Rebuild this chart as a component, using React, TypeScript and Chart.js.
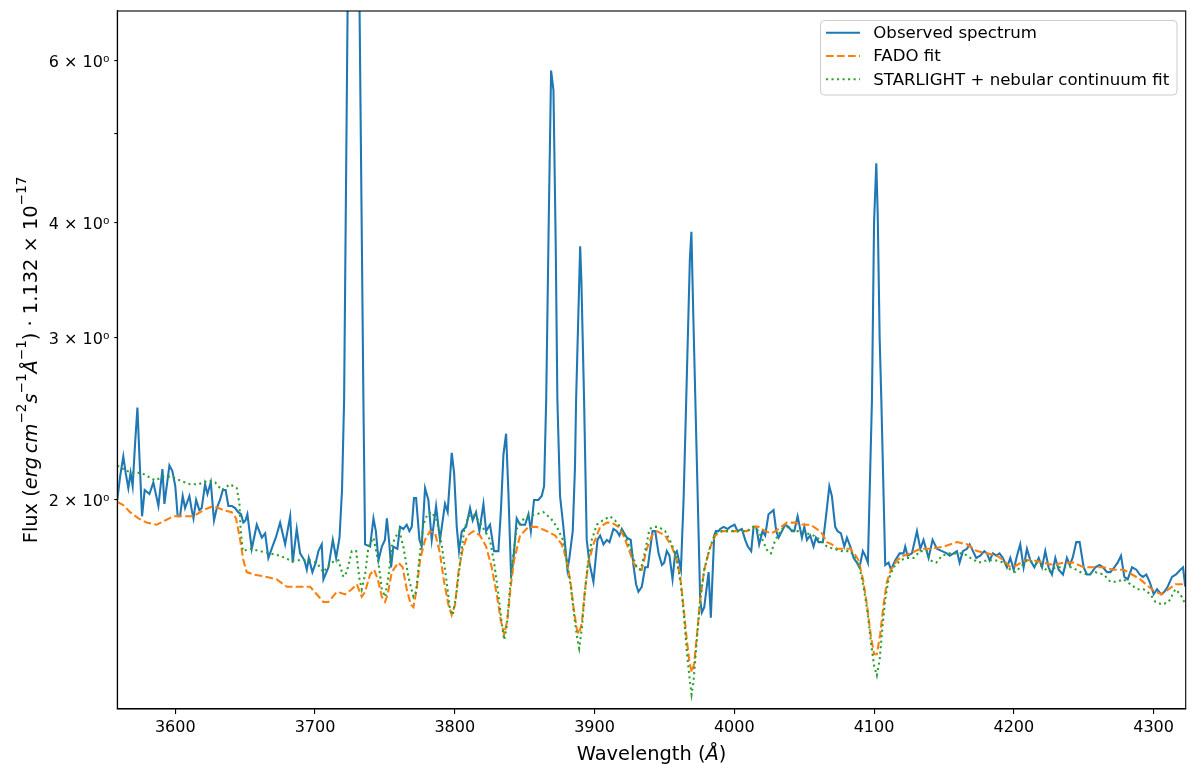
import { useEffect, useRef } from 'react';
import { Chart, registerables } from 'chart.js';

Chart.register(...registerables);

// Observed spectrum (Å, flux)
const obsWave = [
  3558.5, 3560.5, 3562.8, 3564.5, 3566.4, 3568.0, 3569.5, 3571.2, 3572.9, 3574.5, 3576.2, 3578.1, 3579.8, 3581.5,
  3584.3, 3587.9, 3590.8, 3592.2, 3595.8, 3597.9, 3600.0, 3601.7, 3603.4, 3605.3, 3607.0, 3610.1, 3611.8, 3613.0,
  3614.9, 3617.2, 3618.9, 3621.3, 3623.0, 3625.4, 3627.7, 3629.7, 3632.0, 3634.0, 3636.0, 3638.0, 3640.5, 3642.8,
  3645.0, 3647.0, 3648.7, 3650.2, 3651.6, 3654.7, 3658.3, 3661.9, 3664.3, 3666.6, 3669.5, 3671.9, 3675.0, 3678.6,
  3680.0, 3682.2, 3684.0, 3686.9, 3689.3, 3692.4, 3694.1, 3695.5, 3698.1, 3700.5, 3702.4, 3704.8, 3706.0, 3709.6,
  3712.7, 3715.1, 3717.5, 3719.3, 3720.8, 3724.5, 3727.5, 3730.5, 3734.6, 3735.8, 3739.4, 3741.8, 3743.5, 3745.4,
  3747.8, 3750.0, 3751.4, 3753.2, 3754.4, 3756.0, 3758.9, 3760.8, 3763.2, 3765.6, 3767.5, 3769.2, 3770.8, 3772.3,
  3774.7, 3776.3, 3778.7, 3781.1, 3783.5, 3786.6, 3789.4, 3793.0, 3794.9, 3797.8, 3799.5, 3801.4, 3803.0, 3805.0,
  3808.1, 3810.9, 3812.8, 3815.2, 3817.6, 3820.5, 3822.4, 3825.2, 3828.1, 3831.2, 3833.0, 3834.8, 3836.7, 3838.4,
  3840.3, 3841.9, 3844.3, 3846.7, 3850.3, 3852.7, 3854.4, 3856.7, 3859.8, 3862.2, 3863.9, 3865.4, 3867.2, 3868.9,
  3870.6, 3872.2, 3873.4, 3875.3, 3877.7, 3880.6, 3882.0, 3884.4, 3886.0, 3886.8, 3889.7, 3890.6, 3892.5, 3894.4,
  3896.3, 3899.2, 3902.1, 3904.0, 3906.4, 3908.8, 3910.7, 3913.5, 3915.9, 3917.8, 3919.5, 3923.1, 3925.9, 3927.8,
  3929.7, 3931.4, 3933.8, 3936.2, 3938.1, 3941.5, 3943.4, 3945.8, 3948.2, 3949.8, 3951.7, 3953.6, 3955.8, 3957.7,
  3958.9, 3961.8, 3963.7, 3965.6, 3968.2, 3969.3, 3970.6, 3973.2, 3975.6, 3976.8, 3978.5, 3981.6, 3983.2, 3985.6,
  3986.8, 3988.7, 3989.9, 3992.3, 3995.2, 3997.1, 4000.2, 4002.3, 4005.4, 4007.8, 4009.7, 4012.1, 4013.8, 4015.7,
  4017.8, 4020.2, 4022.1, 4024.5, 4028.1, 4030.0, 4031.7, 4034.1, 4036.4, 4038.8, 4041.2, 4042.9, 4045.3, 4048.4,
  4050.1, 4052.0, 4054.3, 4056.7, 4058.4, 4060.3, 4063.4, 4065.8, 4068.0, 4069.8, 4072.2, 4073.9, 4076.3, 4078.7,
  4080.6, 4083.0, 4085.4, 4087.7, 4089.6, 4092.0, 4093.7, 4095.6, 4097.3, 4098.5, 4100.0, 4101.6, 4102.6, 4104.0,
  4105.2, 4108.0, 4110.4, 4112.1, 4115.2, 4118.3, 4121.1, 4122.3, 4124.0, 4127.1, 4130.7, 4133.1, 4135.4, 4139.0,
  4141.9, 4145.0, 4148.6, 4152.1, 4154.1, 4156.9, 4159.3, 4161.2, 4163.6, 4166.5, 4168.4, 4170.8, 4173.1, 4176.0,
  4178.9, 4180.8, 4182.7, 4185.1, 4187.5, 4189.8, 4192.2, 4195.1, 4197.5, 4199.9, 4202.3, 4204.6, 4207.0, 4209.4,
  4211.8, 4214.7, 4217.8, 4220.2, 4222.5, 4224.9, 4227.3, 4229.7, 4232.1, 4235.2, 4238.0, 4240.0, 4242.1, 4244.7,
  4247.1, 4250.0, 4252.4, 4254.7, 4258.3, 4261.4, 4263.8, 4266.7, 4269.1, 4271.9, 4274.3, 4276.7, 4279.1, 4281.5,
  4284.6, 4287.7, 4290.1, 4292.4, 4294.8, 4297.2, 4300.1, 4302.5, 4305.3, 4307.7, 4310.1, 4313.2, 4316.1, 4319.2,
  4321.1, 4322.7,
];
const obsFlux = [
  2.00, 2.12, 2.23, 2.14, 2.06, 2.14, 2.07, 2.30, 2.52, 2.20, 1.92, 2.05, 2.04, 2.03,
  2.09, 1.97, 2.16, 1.98, 2.18, 2.15, 2.07, 1.92, 1.92, 2.02, 1.96, 2.02, 1.95, 1.91,
  2.00, 1.95, 1.96, 2.08, 2.03, 2.09, 1.90, 1.96, 2.00, 2.05, 2.05, 1.97, 1.97, 1.96,
  1.94, 1.93, 1.89, 1.90, 1.93, 1.77, 1.88, 1.82, 1.84, 1.73, 1.78, 1.82, 1.89, 1.79,
  1.84, 1.92, 1.71, 1.86, 1.75, 1.72, 1.68, 1.73, 1.67, 1.71, 1.76, 1.79, 1.64, 1.69,
  1.81, 1.73, 1.82, 2.05, 2.57, 11.0, 13.0, 11.0, 2.57, 1.79, 1.78, 1.91, 1.85, 1.72,
  1.78, 1.81, 1.91, 1.79, 1.69, 1.78, 1.77, 1.87, 1.86, 1.88, 1.85, 1.87, 2.01, 2.01,
  1.81, 1.78, 2.06, 2.00, 1.81, 1.97, 1.81, 1.98, 1.94, 2.25, 2.14, 1.87, 1.76, 1.85,
  1.87, 1.96, 1.90, 1.94, 1.85, 1.98, 1.85, 1.88, 1.76, 1.76, 1.95, 2.24, 2.36, 2.03,
  1.65, 1.72, 1.91, 1.88, 1.88, 1.93, 1.85, 2.00, 2.00, 2.02, 2.07, 2.57, 4.00, 5.85,
  5.57, 3.80, 2.57, 2.02, 1.87, 1.68, 1.73, 1.85, 2.17, 2.57, 3.77, 3.45, 2.57, 1.81,
  1.71, 1.63, 1.81, 1.83, 1.79, 1.81, 1.80, 1.86, 1.85, 1.83, 1.86, 1.82, 1.81, 1.70,
  1.62, 1.59, 1.61, 1.69, 1.69, 1.85, 1.85, 1.75, 1.70, 1.71, 1.76, 1.74, 1.64, 1.75,
  1.76, 1.68, 2.00, 2.57, 3.65, 3.91, 3.20, 2.20, 1.56, 1.51, 1.53, 1.67, 1.49, 1.83,
  1.85, 1.85, 1.86, 1.87, 1.86, 1.87, 1.88, 1.85, 1.86, 1.81, 1.78, 1.76, 1.87, 1.87,
  1.79, 1.85, 1.83, 1.93, 1.95, 1.85, 1.82, 1.85, 1.88, 1.87, 1.85, 1.85, 1.92, 1.82,
  1.87, 1.81, 1.83, 1.78, 1.82, 1.80, 1.80, 1.93, 2.07, 2.02, 1.87, 1.85, 1.84, 1.78,
  1.82, 1.78, 1.73, 1.71, 1.69, 1.76, 1.74, 1.71, 2.17, 2.57, 4.00, 4.64, 4.10, 3.00,
  2.57, 1.70, 1.71, 1.68, 1.72, 1.75, 1.75, 1.78, 1.74, 1.75, 1.85, 1.77, 1.81, 1.73,
  1.81, 1.77, 1.76, 1.75, 1.74, 1.75, 1.76, 1.71, 1.76, 1.77, 1.79, 1.76, 1.73, 1.74,
  1.76, 1.75, 1.72, 1.75, 1.74, 1.75, 1.73, 1.69, 1.73, 1.68, 1.74, 1.79, 1.69, 1.77,
  1.72, 1.69, 1.73, 1.69, 1.76, 1.69, 1.66, 1.73, 1.68, 1.66, 1.73, 1.70, 1.73, 1.80,
  1.80, 1.69, 1.66, 1.66, 1.69, 1.70, 1.69, 1.67, 1.67, 1.69, 1.71, 1.74, 1.65, 1.64,
  1.69, 1.68, 1.66, 1.65, 1.66, 1.63, 1.58, 1.60, 1.58, 1.59, 1.61, 1.65, 1.66, 1.68,
  1.69, 1.61,
];

// FADO fit
const fadoWave = [
  3558.5, 3562.8, 3567.6, 3573.6, 3579.5, 3586.7, 3592.7, 3598.6, 3605.8, 3613.0, 3620.1, 3627.3, 3634.4, 3640.4,
  3643.5, 3646.4, 3648.7, 3651.1, 3655.9, 3665.5, 3672.6, 3679.8, 3687.0, 3696.5, 3701.2, 3706.0, 3709.6, 3715.6,
  3721.5, 3726.3, 3729.9, 3733.4, 3735.8, 3739.4, 3742.3, 3744.9, 3747.8, 3750.1, 3752.0, 3754.9, 3759.6, 3762.7,
  3765.6, 3768.5, 3770.4, 3772.7, 3775.1, 3778.7, 3782.3, 3785.9, 3789.4, 3792.3, 3795.4, 3797.8, 3800.2, 3802.6,
  3805.7, 3809.0, 3813.3, 3818.1, 3822.4, 3826.4, 3830.0, 3832.9, 3835.3, 3837.6, 3840.0, 3842.4, 3846.7, 3852.7,
  3858.6, 3865.8, 3871.8, 3876.5, 3880.1, 3883.0, 3884.9, 3887.3, 3888.7, 3890.9, 3893.2, 3895.6, 3899.2, 3904.0,
  3908.8, 3912.3, 3917.1, 3920.7, 3924.3, 3927.8, 3931.4, 3933.8, 3937.4, 3941.0, 3944.6, 3950.5, 3955.3, 3958.9,
  3961.3, 3963.7, 3966.0, 3968.0, 3969.6, 3971.3, 3973.7, 3975.6, 3978.5, 3982.3, 3986.3, 3991.1, 3997.1, 4003.0,
  4009.0, 4013.8, 4017.4, 4022.1, 4026.9, 4031.7, 4037.6, 4043.6, 4049.6, 4054.3, 4059.1, 4062.7, 4066.3, 4069.8,
  4073.4, 4078.2, 4083.0, 4085.8, 4088.9, 4092.1, 4094.9, 4097.8, 4100.1, 4102.0, 4104.4, 4106.8, 4109.2, 4112.1,
  4116.4, 4121.1, 4125.9, 4133.1, 4140.2, 4149.8, 4159.3, 4166.5, 4173.6, 4180.8, 4187.9, 4192.7, 4197.5, 4202.3,
  4208.2, 4214.2, 4221.3, 4228.5, 4235.7, 4242.8, 4250.0, 4257.1, 4264.3, 4271.4, 4278.6, 4284.6, 4290.5, 4296.5,
  4301.3, 4306.0, 4310.8, 4315.6, 4320.4, 4322.7,
];
const fadoFlux = [
  1.99, 1.975, 1.94, 1.91, 1.89, 1.88, 1.90, 1.92, 1.92, 1.92, 1.95, 1.97, 1.95, 1.94,
  1.91, 1.81, 1.72, 1.67, 1.66, 1.65, 1.64, 1.61, 1.61, 1.61, 1.58, 1.55, 1.55, 1.59,
  1.58, 1.60, 1.62, 1.57, 1.59, 1.66, 1.68, 1.64, 1.57, 1.55, 1.58, 1.67, 1.71, 1.69,
  1.60, 1.54, 1.53, 1.60, 1.72, 1.81, 1.85, 1.84, 1.75, 1.63, 1.54, 1.50, 1.54, 1.67,
  1.77, 1.83, 1.85, 1.83, 1.78, 1.69, 1.58, 1.48, 1.43, 1.48, 1.61, 1.72, 1.83, 1.87,
  1.87, 1.85, 1.83, 1.79, 1.72, 1.62, 1.53, 1.45, 1.43, 1.47, 1.60, 1.71, 1.79, 1.87,
  1.89, 1.89, 1.87, 1.83, 1.77, 1.71, 1.68, 1.68, 1.77, 1.83, 1.85, 1.83, 1.78, 1.72,
  1.65, 1.53, 1.41, 1.33, 1.30, 1.33, 1.45, 1.56, 1.68, 1.77, 1.83, 1.85, 1.85, 1.85,
  1.85, 1.87, 1.87, 1.85, 1.84, 1.86, 1.89, 1.89, 1.88, 1.88, 1.86, 1.84, 1.80, 1.79,
  1.77, 1.77, 1.77, 1.75, 1.72, 1.64, 1.54, 1.42, 1.36, 1.36, 1.43, 1.54, 1.63, 1.68,
  1.72, 1.74, 1.75, 1.77, 1.77, 1.78, 1.80, 1.79, 1.76, 1.75, 1.74, 1.72, 1.69, 1.70,
  1.72, 1.72, 1.71, 1.70, 1.71, 1.71, 1.69, 1.69, 1.69, 1.68, 1.68, 1.66, 1.64, 1.61,
  1.59, 1.58, 1.60, 1.62, 1.62, 1.61,
];

// STARLIGHT + nebular continuum fit
const starWave = [
  3558.5, 3560.5, 3565.2, 3570.0, 3576.0, 3580.7, 3585.5, 3591.5, 3597.4, 3603.4, 3610.6, 3616.5, 3623.7, 3628.5,
  3633.2, 3639.2, 3644.0, 3645.9, 3646.8, 3648.3, 3653.5, 3660.7, 3667.8, 3675.0, 3682.1, 3689.3, 3696.5, 3701.2,
  3706.0, 3711.3, 3716.7, 3720.3, 3722.7, 3726.3, 3729.4, 3731.8, 3733.4, 3735.8, 3738.2, 3741.8, 3745.4, 3747.8,
  3750.1, 3752.5, 3754.9, 3757.2, 3760.3, 3763.2, 3766.8, 3770.4, 3772.3, 3774.7, 3777.5, 3780.4, 3783.5, 3787.1,
  3790.6, 3793.7, 3796.6, 3798.5, 3800.9, 3803.8, 3806.6, 3809.7, 3813.3, 3816.9, 3821.7, 3825.2, 3828.1, 3831.2,
  3833.6, 3835.3, 3837.2, 3839.1, 3841.5, 3844.3, 3847.9, 3852.7, 3858.6, 3863.4, 3868.7, 3873.0, 3877.3, 3880.1,
  3883.0, 3885.6, 3887.8, 3889.0, 3890.9, 3892.8, 3894.9, 3898.0, 3901.6, 3905.9, 3911.1, 3914.7, 3918.3, 3922.6,
  3926.6, 3930.2, 3933.1, 3936.2, 3939.3, 3942.6, 3945.8, 3950.5, 3955.3, 3958.9, 3961.8, 3964.1, 3966.0, 3968.0,
  3969.4, 3970.8, 3973.2, 3975.6, 3978.5, 3982.3, 3986.3, 3991.1, 3997.1, 4003.0, 4009.0, 4013.8, 4017.4, 4020.9,
  4023.8, 4026.2, 4029.3, 4034.1, 4037.6, 4042.4, 4047.2, 4052.0, 4056.7, 4061.5, 4066.3, 4071.0, 4077.0, 4083.0,
  4086.5, 4089.6, 4092.5, 4095.4, 4097.8, 4100.1, 4102.0, 4104.0, 4106.1, 4108.0, 4110.4, 4114.0, 4118.8, 4123.5,
  4128.3, 4133.1, 4137.8, 4140.2, 4144.5, 4148.6, 4153.3, 4158.1, 4164.1, 4168.9, 4174.8, 4180.8, 4186.7, 4192.7,
  4197.5, 4201.1, 4204.6, 4209.4, 4215.4, 4221.3, 4224.9, 4229.7, 4235.7, 4241.6, 4247.6, 4252.4, 4258.3, 4264.3,
  4269.1, 4273.8, 4278.6, 4283.4, 4288.2, 4292.9, 4297.7, 4301.3, 4306.0, 4310.8, 4315.6, 4319.2, 4322.0,
];
const starFlux = [
  2.18, 2.17, 2.15, 2.14, 2.14, 2.12, 2.10, 2.12, 2.12, 2.10, 2.08, 2.08, 2.10, 2.09,
  2.05, 2.08, 2.06, 1.98, 1.85, 1.76, 1.77, 1.76, 1.75, 1.74, 1.72, 1.72, 1.72, 1.71,
  1.67, 1.71, 1.72, 1.65, 1.67, 1.76, 1.76, 1.64, 1.60, 1.66, 1.78, 1.82, 1.71, 1.60,
  1.57, 1.65, 1.78, 1.82, 1.85, 1.78, 1.65, 1.57, 1.59, 1.73, 1.88, 1.93, 1.94, 1.90,
  1.79, 1.65, 1.52, 1.50, 1.57, 1.71, 1.85, 1.92, 1.93, 1.90, 1.85, 1.81, 1.71, 1.58,
  1.47, 1.41, 1.46, 1.58, 1.73, 1.86, 1.90, 1.92, 1.93, 1.94, 1.91, 1.87, 1.81, 1.72,
  1.61, 1.49, 1.41, 1.38, 1.45, 1.57, 1.69, 1.81, 1.88, 1.90, 1.92, 1.90, 1.87, 1.82,
  1.75, 1.69, 1.68, 1.76, 1.86, 1.87, 1.87, 1.85, 1.79, 1.72, 1.62, 1.49, 1.37, 1.28,
  1.23, 1.27, 1.41, 1.56, 1.68, 1.77, 1.84, 1.85, 1.85, 1.85, 1.85, 1.87, 1.85, 1.80,
  1.76, 1.75, 1.81, 1.86, 1.87, 1.85, 1.85, 1.84, 1.83, 1.81, 1.78, 1.77, 1.76, 1.76,
  1.73, 1.69, 1.61, 1.51, 1.40, 1.32, 1.29, 1.34, 1.46, 1.56, 1.64, 1.69, 1.72, 1.73,
  1.73, 1.76, 1.76, 1.72, 1.71, 1.74, 1.75, 1.75, 1.75, 1.73, 1.71, 1.72, 1.72, 1.71,
  1.68, 1.67, 1.69, 1.72, 1.71, 1.69, 1.67, 1.69, 1.69, 1.69, 1.67, 1.66, 1.67, 1.66,
  1.63, 1.63, 1.64, 1.62, 1.60, 1.60, 1.58, 1.55, 1.54, 1.55, 1.60, 1.58, 1.55,
];

const xTicks = [3600, 3700, 3800, 3900, 4000, 4100, 4200, 4300];
const yTicks = [2, 3, 4, 5, 6];
const yTickLabels: Record<number, string> = { 2: '2 × 10⁰', 3: '3 × 10⁰', 4: '4 × 10⁰', 5: '', 6: '6 × 10⁰' };

const FONT = "'DejaVu Sans', sans-serif";
const LW = 2.08;

type Run = { t: string; it?: boolean; sup?: boolean };

const xTitle: Run[] = [{ t: 'Wavelength (' }, { t: 'Å', it: true }, { t: ')' }];
const yTitle: Run[] = [
  { t: 'Flux (' },
  { t: 'erg\u2009cm', it: true },
  { t: '−2', sup: true },
  { t: 's', it: true },
  { t: '−1', sup: true },
  { t: 'Å', it: true },
  { t: '−1', sup: true },
  { t: ') · 1.132 × 10' },
  { t: '−17', sup: true },
];

// draws a run of mixed italic / superscript text centred on (0, 0), alphabetic baseline
function drawRuns(ctx: CanvasRenderingContext2D, runs: Run[], size: number) {
  const font = (r: Run) => `${r.it ? 'italic ' : ''}${r.sup ? size * 0.7 : size}px ${FONT}`;
  let w = 0;
  for (const r of runs) {
    ctx.font = font(r);
    w += ctx.measureText(r.t).width;
  }
  let x = -w / 2;
  ctx.textAlign = 'left';
  ctx.textBaseline = 'alphabetic';
  for (const r of runs) {
    ctx.font = font(r);
    ctx.fillText(r.t, x, r.sup ? -size * 0.52 : 0);
    x += ctx.measureText(r.t).width;
  }
}

const decorPlugin = {
  id: 'decor',
  afterDraw(chart: Chart) {
    const { ctx, chartArea: a } = chart;
    ctx.save();
    // full frame
    ctx.strokeStyle = '#000';
    ctx.lineWidth = 1.1;
    ctx.setLineDash([]);
    ctx.strokeRect(a.left, a.top, a.right - a.left, a.bottom - a.top);

    // axis titles
    ctx.fillStyle = '#000';
    ctx.save();
    ctx.translate((a.left + a.right) / 2, 760);
    drawRuns(ctx, xTitle, 19.4);
    ctx.restore();
    ctx.save();
    ctx.translate(36.5, (a.top + a.bottom) / 2);
    ctx.rotate(-Math.PI / 2);
    drawRuns(ctx, yTitle, 19.4);
    ctx.restore();

    // legend box
    const bx = 820.5, by = 20.5, bw = 356.5, bh = 74.5, r = 4;
    ctx.beginPath();
    ctx.moveTo(bx + r, by);
    ctx.arcTo(bx + bw, by, bx + bw, by + bh, r);
    ctx.arcTo(bx + bw, by + bh, bx, by + bh, r);
    ctx.arcTo(bx, by + bh, bx, by, r);
    ctx.arcTo(bx, by, bx + bw, by, r);
    ctx.closePath();
    ctx.fillStyle = 'rgba(255,255,255,0.8)';
    ctx.fill();
    ctx.strokeStyle = '#cccccc';
    ctx.lineWidth = 1;
    ctx.stroke();

    chart.data.datasets.forEach((ds: any, i: number) => {
      const y = 32.7 + i * 23.3;
      ctx.beginPath();
      ctx.setLineDash(ds.borderDash || []);
      ctx.lineCap = 'butt';
      ctx.strokeStyle = ds.borderColor;
      ctx.lineWidth = LW;
      ctx.moveTo(826, y);
      ctx.lineTo(860, y);
      ctx.stroke();
      ctx.setLineDash([]);
      ctx.fillStyle = '#000';
      ctx.font = `16.6px ${FONT}`;
      ctx.textAlign = 'left';
      ctx.textBaseline = 'middle';
      ctx.fillText(ds.label, 873.3, y + 1);
    });
    ctx.restore();
  },
};

const toPoints = (xs: number[], ys: number[]) => xs.map((x, i) => ({ x, y: ys[i] }));

export default function App() {
  const canvasRef = useRef<HTMLCanvasElement>(null);
  const chartRef = useRef<Chart | null>(null);

  useEffect(() => {
    document.body.style.margin = '0';
    chartRef.current?.destroy();
    chartRef.current = null;
    if (!canvasRef.current) return undefined;

    const axisGrid = { drawOnChartArea: false, color: '#000', lineWidth: 1.1 };
    const tickFont = { family: FONT, size: 16 };

    chartRef.current = new Chart(canvasRef.current, {
      type: 'line',
      data: {
        datasets: [
          {
            label: 'Observed spectrum',
            data: toPoints(obsWave, obsFlux),
            borderColor: '#1f77b4',
            borderWidth: LW,
            pointRadius: 0,
            order: 3,
          },
          {
            label: 'FADO fit',
            data: toPoints(fadoWave, fadoFlux),
            borderColor: '#ff7f0e',
            borderWidth: LW,
            borderDash: [7.7, 3.3],
            borderCapStyle: 'butt',
            pointRadius: 0,
            order: 2,
          },
          {
            label: 'STARLIGHT + nebular continuum fit',
            data: toPoints(starWave, starFlux),
            borderColor: '#2ca02c',
            borderWidth: LW,
            borderDash: [2.08, 3.43],
            borderCapStyle: 'butt',
            pointRadius: 0,
            order: 1,
          },
        ],
      },
      options: {
        animation: false,
        responsive: false,
        maintainAspectRatio: false,
        events: [],
        layout: { padding: { left: 0, right: 14.3, top: 11, bottom: 0 } },
        elements: { line: { tension: 0, fill: false } },
        datasets: { line: { clip: 0 } as any },
        plugins: { legend: { display: false }, tooltip: { enabled: false } },
        scales: {
          x: {
            type: 'linear',
            min: 3558.5,
            max: 4323,
            afterBuildTicks: (s: any) => {
              s.ticks = xTicks.map(v => ({ value: v }));
            },
            afterFit: (s: any) => {
              s.height = 55;
              s.paddingLeft = 0;
              s.paddingRight = 0;
            },
            ticks: {
              font: tickFont,
              color: '#000',
              padding: 4,
              autoSkip: false,
              maxRotation: 0,
              callback: (v: any) => String(v),
            },
            grid: { ...axisGrid, tickLength: 5 },
            border: { color: '#000', width: 1.1 },
          },
          y: {
            type: 'logarithmic',
            min: 1.186,
            max: 6.79,
            afterBuildTicks: (s: any) => {
              s.ticks = yTicks.map(v => ({ value: v }));
            },
            afterFit: (s: any) => {
              s.width = 117.3;
              s.paddingTop = 0;
              s.paddingBottom = 0;
            },
            ticks: {
              font: tickFont,
              color: '#000',
              padding: 5,
              labelOffset: 2,
              autoSkip: false,
              callback: (v: any) => yTickLabels[Number(v)] ?? '',
            },
            grid: { ...axisGrid, tickLength: 3 },
            border: { color: '#000', width: 1.1 },
          },
        },
      },
      plugins: [decorPlugin],
    });

    return () => {
      chartRef.current?.destroy();
      chartRef.current = null;
    };
  }, []);

  return (
    <div style={{ position: 'absolute', left: 0, top: 0, width: 1200, height: 764, background: '#fff' }}>
      <canvas ref={canvasRef} width={1200} height={764} />
    </div>
  );
}
